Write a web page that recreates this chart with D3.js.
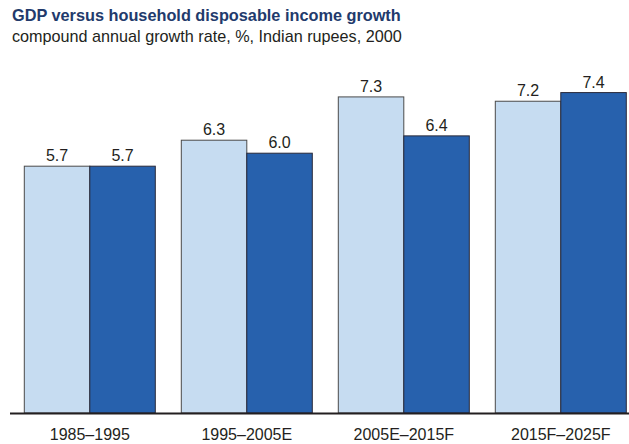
<!DOCTYPE html>
<html>
<head>
<meta charset="utf-8">
<script src="https://cdn.jsdelivr.net/npm/d3@7"></script>
<style>
  html, body { margin: 0; padding: 0; background: #fff; }
  svg { display: block; font-family: "Liberation Sans", Arial, Helvetica, sans-serif; }
</style>
</head>
<body>
<svg id="chart" width="629" height="444"></svg>
<script>
// Periods on the x axis
const periods = ["1985–1995", "1995–2005E", "2005E–2015F", "2015F–2025F"];
// Compound annual growth rate, %
const gdpGrowth = [5.7, 6.3, 7.3, 7.2];
const incomeGrowth = [5.7, 6.0, 6.4, 7.4];
const seriesKeys = ["gdp", "income"];

const rows = periods.map((p, i) => ({ period: p, gdp: gdpGrowth[i], income: incomeGrowth[i] }));

const svg = d3.select("#chart");
const baseY = 413;

const x = d3.scaleBand()
  .domain(periods)
  .range([11.3, 639.3])
  .paddingInner(26 / 157)
  .paddingOuter(13 / 157);

const xSub = d3.scaleBand()
  .domain(seriesKeys)
  .range([0, x.bandwidth()]);

const y = d3.scaleLinear()
  .domain([0, 8])
  .range([baseY, baseY - 8 * 43.3]);

const fill = { gdp: "#c6dcf1", income: "#2761ad" };
const edge = { gdp: "#4a4a4a", income: "#2a2a3a" };

// Title block
svg.append("text")
  .attr("x", 12).attr("y", 21)
  .attr("font-size", 16.3).attr("font-weight", "bold")
  .attr("fill", "#223a6c")
  .text("GDP versus household disposable income growth");
svg.append("text")
  .attr("x", 12).attr("y", 42)
  .attr("font-size", 16.2)
  .attr("fill", "#231f20")
  .text("compound annual growth rate, %, Indian rupees, 2000");

// Bars
const groups = svg.append("g").selectAll("g")
  .data(rows).join("g")
  .attr("transform", d => `translate(${x(d.period)},0)`);

const cells = groups.selectAll("g.bar")
  .data(d => seriesKeys.map(k => ({ key: k, value: d[k] })))
  .join("g").attr("class", "bar");

cells.append("rect")
  .attr("x", d => xSub(d.key))
  .attr("y", d => y(d.value))
  .attr("width", xSub.bandwidth())
  .attr("height", d => baseY - y(d.value))
  .attr("fill", d => fill[d.key])
  .attr("stroke", d => edge[d.key])
  .attr("stroke-width", 1);

cells.append("text")
  .attr("x", d => xSub(d.key) + xSub.bandwidth() / 2)
  .attr("y", d => y(d.value) - 5)
  .attr("text-anchor", "middle")
  .attr("font-size", 16)
  .attr("fill", "#231f20")
  .text(d => d.value.toFixed(1));

// Baseline axis
const xAxis = d3.axisBottom(x).tickSize(0).tickPadding(16);
const axisG = svg.append("g")
  .attr("transform", `translate(0,${baseY})`)
  .call(xAxis);
axisG.select(".domain").remove();
axisG.selectAll("text")
  .attr("font-size", 16)
  .attr("fill", "#231f20")
  .attr("font-family", "\"Liberation Sans\", Arial, sans-serif");

svg.append("line")
  .attr("x1", 10).attr("x2", 629)
  .attr("y1", baseY + 0.5).attr("y2", baseY + 0.5)
  .attr("stroke", "#231f20")
  .attr("stroke-width", 2);
</script>
</body>
</html>
